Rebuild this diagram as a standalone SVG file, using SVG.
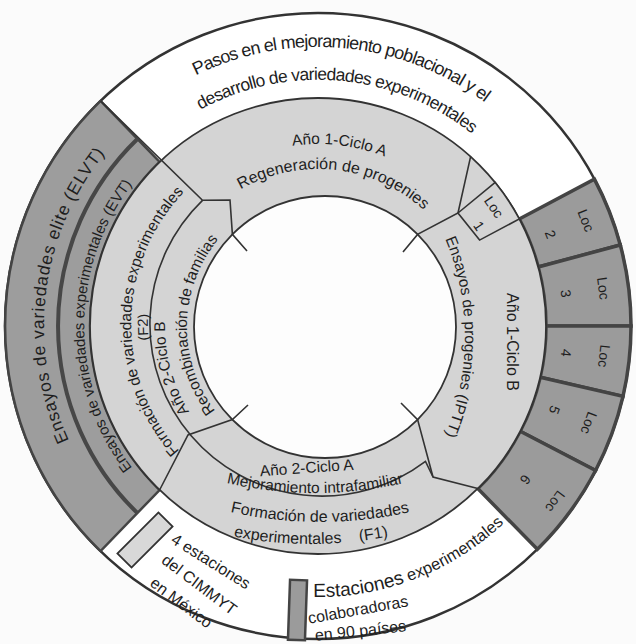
<svg xmlns="http://www.w3.org/2000/svg" width="636" height="644" viewBox="0 0 636 644">
<style>
.t{font-family:"Liberation Sans",Arial,sans-serif;fill:#1e1e1e}
.ln{fill:none;stroke:#333;stroke-width:1.6}
.sep{fill:none;stroke:#474747;stroke-width:4}
.dark{fill:#9b9b9b;stroke:#444;stroke-width:3.5}
.light{fill:#d4d4d4;stroke:#333;stroke-width:1.8}
.loc{font-size:14px;text-anchor:middle;dominant-baseline:central}
</style>
<defs>
<path id="pT1" d="M 43.5 276.1 A 279 279 0 0 1 597 327.5"/>
<path id="pT2" d="M 75.7 283.3 A 246 246 0 0 1 564 326"/>
<path id="pA1A" d="M 143.7 273.7 A 182 182 0 0 1 499.7 315.5"/>
<path id="pReg" d="M 167.4 281.7 A 157 157 0 0 1 474.7 316.1"/>
<path id="pEns" d="M 254.3 85.9 A 255 255 0 0 1 254.3 588.1"/>
<path id="pMej" d="M 115 439.4 A 400 400 0 0 0 515 439.4"/>
<path id="pF1a" d="M 120 469.9 A 410 410 0 0 0 520 469.9"/>
<path id="pF1b" d="M 111 490.4 A 400 400 0 0 0 511 490.4"/>
<path id="pF2a" d="M 285.6 511.5 A 191 191 0 0 1 292.1 135.4"/>
<path id="pF2b" d="M 294.8 495.9 A 174 174 0 0 1 288.8 153.2"/>
<path id="pA2B" d="M 338.9 486.4 A 160 160 0 0 1 257.4 182"/>
<path id="pRec" d="M 298.7 462.5 A 138 138 0 0 1 303.4 190.7"/>
<path id="pELVT" d="M 235.6 588 A 275 275 0 0 1 303.6 51.4"/>
<path id="pEVT" d="M 277.4 556.4 A 234 234 0 0 1 277.4 95.6"/>
<path id="pEst" d="M 313.3 597 A 271 271 0 0 0 584.9 373"/>
</defs>
<rect width="636" height="644" fill="#fbfbfb"/>

<g id="outer-ring">
<circle cx="318" cy="326" r="313" fill="#fff" stroke="#333" stroke-width="2.5"/>
</g>

<g id="elvt-evt">
<path d="M 100.6 100.9 A 313 313 0 0 0 100.6 551.1 L 159.6 490 A 228 228 0 0 1 159.6 162 Z" fill="#9d9d9d" stroke="#444" stroke-width="2.5"/>
<path class="sep" d="M 137.4 139 A 260 260 0 0 0 137.4 513"/>
<text class="t" font-size="17.5" letter-spacing="0.8"><textPath href="#pELVT" startOffset="50%" text-anchor="middle">Ensayos de variedades elite (ELVT)</textPath></text>
<text class="t" font-size="15"><textPath href="#pEVT" startOffset="50%" text-anchor="middle">Ensayos de variedades experimentales (EVT)</textPath></text>
</g>

<g id="loc2"><path class="dark" d="M 519.3 219 L 594.4 179.1 A 313 313 0 0 1 620.3 245 L 538.2 267 A 228 228 0 0 0 519.3 219 Z"/>
<text class="t loc" transform="translate(586 220.4) rotate(68.5)">Loc</text>
<text class="t loc" transform="translate(550.6 234.4) rotate(68.5)">2</text></g>
<g id="loc3"><path class="dark" d="M 538.2 267 L 620.3 245 A 313 313 0 0 1 631 326 L 546 326 A 228 228 0 0 0 538.2 267 Z"/>
<text class="t loc" transform="translate(603.5 288.4) rotate(82.5)">Loc</text>
<text class="t loc" transform="translate(565.9 293.4) rotate(82.5)">3</text></g>
<g id="loc4"><path class="dark" d="M 546 326 L 631 326 A 313 313 0 0 1 623 396.4 L 540.2 377.3 A 228 228 0 0 0 546 326 Z"/>
<text class="t loc" transform="translate(604.2 356) rotate(96.5)">Loc</text>
<text class="t loc" transform="translate(566.4 353) rotate(96.5)">4</text></g>
<g id="loc5"><path class="dark" d="M 540.2 377.3 L 623 396.4 A 313 313 0 0 1 595.6 470.5 L 520.2 431.3 A 228 228 0 0 0 540.2 377.3 Z"/>
<text class="t loc" transform="translate(589 423) rotate(110.25)">Loc</text>
<text class="t loc" transform="translate(554.6 410) rotate(110.25)">5</text></g>
<g id="loc6"><path class="dark" d="M 520.2 431.3 L 595.6 470.5 A 313 313 0 0 1 537.4 549.3 L 477.8 488.6 A 228 228 0 0 0 520.2 431.3 Z"/>
<text class="t loc" transform="translate(555.2 501.5) rotate(126.5)">Loc</text>
<text class="t loc" transform="translate(525.4 479.5) rotate(126.5)">6</text></g>

<g id="light-ring">
<circle class="light" cx="318" cy="326" r="228"/>
</g>
<g id="inner-circle">
<circle cx="325" cy="327" r="131" fill="#fdfdfd" stroke="#333" stroke-width="1.8"/>
</g>

<g id="connectors">
<path class="ln" d="M 100.6 100.9 L 202.5 200.3 L 230 200 L 232.4 234.4 L 247 251"/>
<path class="ln" d="M 202.5 200.3 A 172 172 0 0 0 425.5 461.4 L 433 477"/>
<path class="ln" d="M 159.6 490 L 188 435 L 232.4 419.6 L 248 405"/>
<path class="ln" d="M 477.8 488.6 L 433 477 L 417.6 419.6 L 401 403"/>
<path class="ln" d="M 470.6 156.6 L 458 213 L 417.6 234.4 L 403 252"/>
</g>

<g id="loc1">
<path d="M 458 213 L 495.2 182.5 A 228 228 0 0 1 519.3 219 L 479.6 240.1 Z" fill="#d4d4d4" stroke="#333" stroke-width="1.6"/>
<text class="t loc" font-size="13" transform="translate(494 207) rotate(56)">Loc</text>
<text class="t loc" font-size="13" transform="translate(479 226) rotate(56)">1</text>
</g>

<g id="title">
<text class="t" font-size="18" letter-spacing="-0.8"><textPath href="#pT1" startOffset="50%" text-anchor="middle">Pasos en el mejoramiento poblacional y el</textPath></text>
<text class="t" font-size="17.5" letter-spacing="-0.7"><textPath href="#pT2" startOffset="50%" text-anchor="middle">desarrollo de variedades experimentales</textPath></text>
</g>

<g id="ano1-cicloA">
<text class="t" font-size="15.5"><textPath href="#pA1A" startOffset="50%" text-anchor="middle">Año 1-Ciclo A</textPath></text>
<text class="t" font-size="16"><textPath href="#pReg" startOffset="50%" text-anchor="middle">Regeneración de progenies</textPath></text>
</g>

<g id="ano1-cicloB">
<text class="t" font-size="16" text-anchor="middle" transform="translate(507 342) rotate(90)">Año 1-Ciclo B</text>
<text class="t" font-size="15.5"><textPath href="#pEns" startOffset="50%" text-anchor="middle">Ensayos de progenies (IPTT)</textPath></text>
</g>

<g id="ano2-cicloA">
<text class="t" font-size="15.5" text-anchor="middle" transform="translate(307 473) rotate(-4)">Año 2-Ciclo A</text>
<text class="t" font-size="15.5"><textPath href="#pMej" startOffset="50%" text-anchor="middle">Mejoramiento intrafamiliar</textPath></text>
</g>

<g id="f1">
<text class="t" font-size="16"><textPath href="#pF1a" startOffset="50%" text-anchor="middle">Formación de variedades</textPath></text>
<text class="t" font-size="16"><textPath href="#pF1b" startOffset="50%" text-anchor="middle">experimentales&#160;&#160;&#160; (F1)</textPath></text>
</g>

<g id="f2">
<text class="t" font-size="15.5"><textPath href="#pF2a" startOffset="50%" text-anchor="middle">Formación de variedades experimentales</textPath></text>
<text class="t" font-size="14.5"><textPath href="#pF2b" startOffset="50%" text-anchor="middle">(F2)</textPath></text>
</g>

<g id="ano2-cicloB">
<text class="t" font-size="15.5"><textPath href="#pA2B" startOffset="50%" text-anchor="middle">Año 2-Ciclo B</textPath></text>
<text class="t" font-size="15.5"><textPath href="#pRec" startOffset="50%" text-anchor="middle">Recombinación de familias</textPath></text>
</g>

<g id="legend-mexico">
<rect x="-29" y="-10" width="58" height="20" transform="translate(145 540) rotate(-45)" fill="#d8d8d8" stroke="#333" stroke-width="1.8"/>
<text class="t" font-size="16" text-anchor="middle" transform="translate(208 566) rotate(32)">4 estaciones</text>
<text class="t" font-size="16" text-anchor="middle" transform="translate(196 589) rotate(37)">del CIMMYT</text>
<text class="t" font-size="16" text-anchor="middle" transform="translate(178 607) rotate(37)">en México</text>
</g>

<g id="legend-colab">
<rect x="289" y="580" width="17" height="60" transform="rotate(2 297 610)" fill="#9b9b9b" stroke="#444" stroke-width="2.5"/>
<text class="t"><textPath href="#pEst"><tspan font-size="19">Estaciones</tspan><tspan font-size="16.5"> experimentales</tspan></textPath></text>
<text class="t" font-size="16" text-anchor="middle" transform="translate(359 615) rotate(-10)">colaboradoras</text>
<text class="t" font-size="16" text-anchor="middle" transform="translate(361 636) rotate(-6)">en 90 países</text>
</g>
</svg>
